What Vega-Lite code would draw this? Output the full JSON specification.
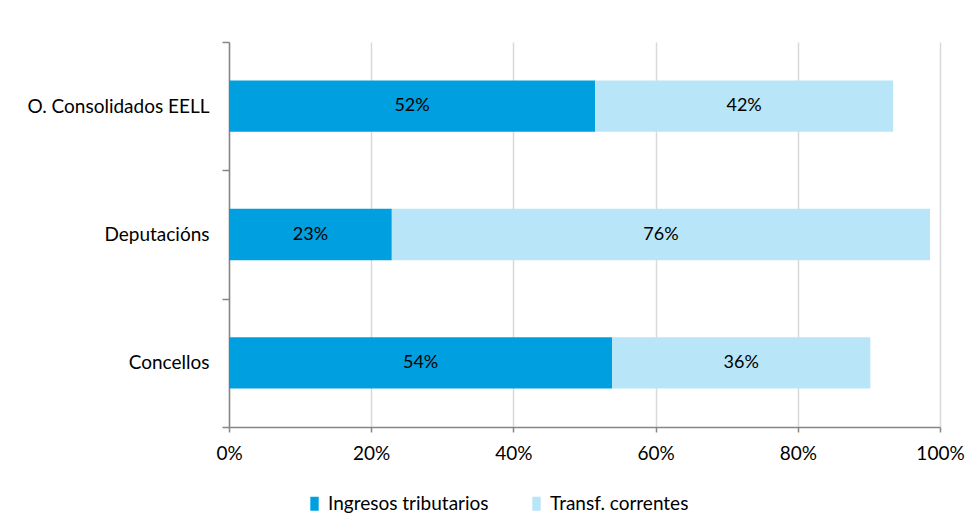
{
  "$schema": "https://vega.github.io/schema/vega-lite/v6.json",
  "autosize": "none",
  "width": 711,
  "height": 385,
  "padding": {"left": 229, "top": 42, "right": 39, "bottom": 105},
  "background": "white",
  "config": {
    "font": "Lato",
    "view": {"stroke": null},
    "axis": {"labelFont": "Lato", "labelColor": "#000000", "labelFontSize": 18, "labelLimit": 0}
  },
  "data": {
    "values": [
      {"ente": "O. Consolidados EELL", "tipo": "Ingresos tributarios", "orde": 1, "valor": 0.515},
      {"ente": "O. Consolidados EELL", "tipo": "Transf. correntes", "orde": 2, "valor": 0.419},
      {"ente": "Deputacións", "tipo": "Ingresos tributarios", "orde": 1, "valor": 0.229},
      {"ente": "Deputacións", "tipo": "Transf. correntes", "orde": 2, "valor": 0.757},
      {"ente": "Concellos", "tipo": "Ingresos tributarios", "orde": 1, "valor": 0.539},
      {"ente": "Concellos", "tipo": "Transf. correntes", "orde": 2, "valor": 0.363}
    ]
  },
  "encoding": {
    "y": {
      "field": "ente",
      "type": "nominal",
      "sort": ["O. Consolidados EELL", "Deputacións", "Concellos"],
      "scale": {"paddingInner": 0, "paddingOuter": 0},
      "axis": {
        "title": null,
        "tickBand": "extent",
        "tickSize": 7,
        "tickColor": "#868686",
        "domainColor": "#868686",
        "domainWidth": 1.5,
        "tickWidth": 1.5,
        "labelPadding": 13,
        "labelLimit": 0,
        "labelFontSize": 19
      }
    },
    "order": {"field": "orde", "type": "quantitative"}
  },
  "layer": [
    {
      "mark": {"type": "bar", "height": {"band": 0.4}},
      "encoding": {
        "x": {
          "field": "valor",
          "type": "quantitative",
          "stack": "zero",
          "scale": {"domain": [0, 1], "nice": false},
          "axis": {
            "title": null,
            "format": ".0%",
            "values": [0, 0.2, 0.4, 0.6, 0.8, 1],
            "grid": true,
            "gridColor": "#d9d9d9",
            "gridWidth": 1.5,
            "domainColor": "#868686",
            "domainWidth": 1.5,
            "tickColor": "#868686",
            "tickWidth": 1.5,
            "tickSize": 5,
            "labelPadding": 12,
            "labelFlush": false,
            "labelFontSize": 19
          }
        },
        "color": {
          "field": "tipo",
          "type": "nominal",
          "scale": {
            "domain": ["Ingresos tributarios", "Transf. correntes"],
            "range": ["#009FE0", "#B8E5F7"]
          },
          "legend": {
            "title": null,
            "orient": "none",
            "direction": "horizontal",
            "legendX": 76,
            "legendY": 452,
            "symbolType": "M-0.6,-1H0.6V1H-0.6Z",
            "symbolSize": 196,
            "symbolStrokeWidth": 0,
            "labelFontSize": 19,
            "labelFont": "Lato",
            "labelColor": "#000000",
            "labelLimit": 400,
            "labelOffset": 4,
            "columnPadding": 38
          }
        }
      }
    },
    {
      "mark": {"type": "text", "fontSize": 18, "color": "#000000", "font": "Lato"},
      "encoding": {
        "x": {
          "field": "valor",
          "type": "quantitative",
          "stack": "zero",
          "bandPosition": 0.5
        },
        "text": {"field": "valor", "type": "quantitative", "format": ".0%"}
      }
    }
  ]
}
